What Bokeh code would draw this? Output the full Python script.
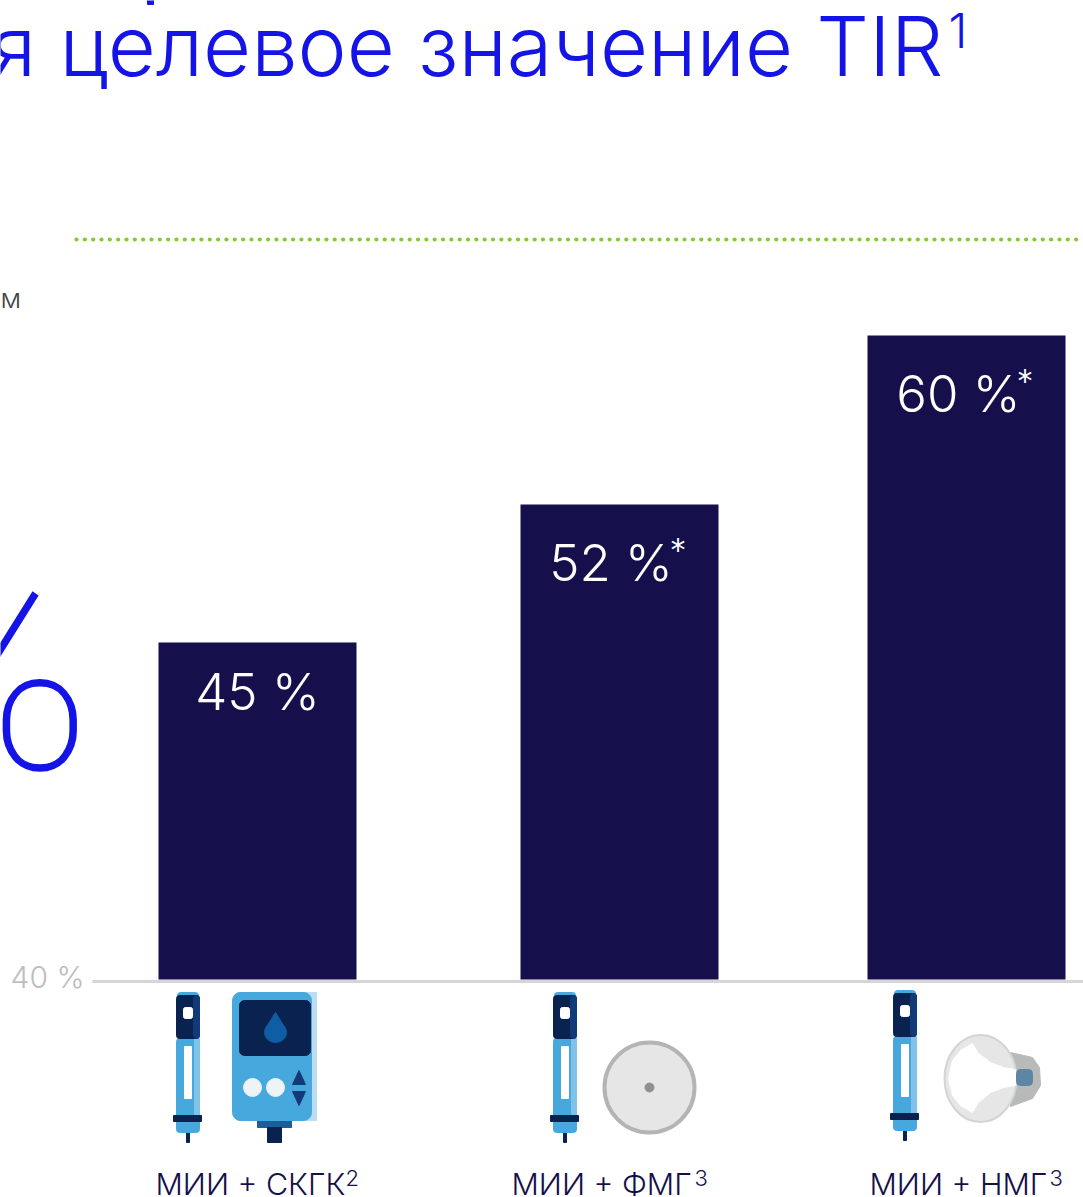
from bokeh.plotting import figure
from bokeh.models import Range1d, ColumnDataSource, LinearInterpolator
from bokeh.core.properties import value
from bokeh.transform import transform
from bokeh.embed import file_html
from bokeh.resources import INLINE

categories = ["МИИ + СКГК", "МИИ + ФМГ", "МИИ + НМГ"]
category_refs = ["2", "3", "3"]
tir_values = [45, 52, 60]
value_marks = ["", "*", "*"]
baseline_label = "40 %"
title_text = "я целевое значение TIR"
title_ref = "1"

# the source chart's value axis is broken: value -> drawn position
AXIS_VALUES = [40, 45, 52, 60]
AXIS_DRAWN = [979, 642, 504, 335]
BAR_CENTRES = [257, 619, 966]
LABEL_CENTRES = [257, 610.5, 958]
LABEL_OFFSETS = [49, 58, 58]
BAR_WIDTH = 198

LIGHT = value("Inter Light")
BLUE = "#1414e6"
NAVY = "#150f4b"
PEN_L = "#46a8dc"
PEN_D = "#0a2250"
BASE_K = 0.37  # alphabetic baseline correction

p = figure(width=1083, height=1197, x_range=Range1d(0, 1083), y_range=Range1d(1197, 0),
           output_backend="svg", toolbar_location=None, min_border=0,
           outline_line_color=None, background_fill_color="white", border_fill_color="white")
p.axis.visible = False
p.grid.visible = False

scale = LinearInterpolator(x=AXIS_VALUES, y=AXIS_DRAWN)
src = ColumnDataSource(dict(x=BAR_CENTRES, v=tir_values, base=[40, 40, 40]))
lab_src = ColumnDataSource(dict(x=LABEL_CENTRES, v=tir_values, off=LABEL_OFFSETS,
                                lab=[f"{v} %" for v in tir_values]))

def txt(x, y, s, size, color, align="left", font=LIGHT):
    p.text([x], [y - BASE_K * size], text=[s], text_font=font, text_font_size=f"{size}px",
           text_color=color, text_align=align, text_baseline="alphabetic")

# title fragments
txt(943, 76, title_text, 83, BLUE, align="right")
txt(948, 48, title_ref, 48, BLUE)
p.rect([150], [1], 6, 6, color=BLUE)
p.scatter([76 + 8.33 * i for i in range(121)], [239] * 121, size=4.2, color="#7fcc2e", line_color=None)
txt(0, 308, "м", 27, "#444444")

# big percent, cropped at the left edge
txt(92, 776, "%", 280, BLUE, align="right", font=value("Roboto Thin"))

# baseline and bars
p.segment([92], [981], [1083], [981], line_color="#d6d6da", line_width=3)
p.vbar(x="x", width=BAR_WIDTH, top=transform("v", scale), bottom=transform("base", scale),
       source=src, fill_color=NAVY, line_color=None)
txt(84, 988, baseline_label, 30, "#bdbdbd", align="right")

p.text(x="x", y=transform("v", scale), text="lab", source=lab_src, text_font=LIGHT, text_font_size="51px",
       text_color="white", text_align="center", text_baseline="alphabetic", y_offset="off")

src2 = ColumnDataSource(dict(x=[c + 50 for c, m in zip(BAR_CENTRES, value_marks) if m],
                             v=[v for v, m in zip(tir_values, value_marks) if m],
                             m=[m for m in value_marks if m]))
p.text(x="x", y=transform("v", scale), text="m", source=src2, text_font=LIGHT, text_font_size="34px",
       text_color="white", text_align="left", text_baseline="alphabetic", y_offset=46)

# category labels
LABEL_X = [155, 511, 869]
REF_X = [345, 694, 1049]
for x, rx, c, r in zip(LABEL_X, REF_X, categories, category_refs):
    txt(x, 1195, c, 30.4, NAVY)
    txt(rx, 1186, r, 22, NAVY)

def pen(x, y):
    p.quad(left=[x + 1], right=[x + 22], top=[y], bottom=[y + 8], color=PEN_L, border_radius=3)
    p.quad(left=[x + 10], right=[x + 13], top=[y + 138], bottom=[y + 150], color=PEN_D)
    p.quad(left=[x], right=[x + 23], top=[y + 46], bottom=[y + 140], color=PEN_L, border_radius=3)
    p.quad(left=[x + 18], right=[x + 23], top=[y + 46], bottom=[y + 123], color="#80c2e8")
    p.quad(left=[x], right=[x + 23], top=[y + 3], bottom=[y + 46], color=PEN_D, border_radius=3)
    p.quad(left=[x + 17], right=[x + 23], top=[y + 3], bottom=[y + 46], color="#123a78", border_radius=3)
    p.quad(left=[x + 8], right=[x + 15], top=[y + 54], bottom=[y + 106], color="white")
    p.quad(left=[x + 7], right=[x + 16], top=[y + 15], bottom=[y + 26], color="white", border_radius=2)
    p.quad(left=[x - 3], right=[x + 25], top=[y + 123], bottom=[y + 129], color=PEN_D)

pen(176, 992)
pen(553, 992)
pen(893, 990)

# pump
p.quad(left=[257], right=[291], top=[1120], bottom=[1127], color="#1c5d9c")
p.quad(left=[267], right=[281], top=[1127], bottom=[1142], color=PEN_D)
p.quad(left=[238], right=[316], top=[992], bottom=[1120], color="#bcdcf2")
p.quad(left=[232], right=[311], top=[992], bottom=[1120], color=PEN_L, border_radius=8)
p.quad(left=[239], right=[310], top=[1000], bottom=[1055], color=PEN_D, border_radius=5)
p.ellipse([275], [1032], 22, 20, color="#0f5da5")
p.patch([275, 265, 285], [1012, 1028, 1028], color="#0f5da5")
p.circle([252, 275], [1087, 1087], radius=9, color="#eef3f6")
p.patch([292, 298.5, 305], [1084, 1070, 1084], color="#123a78")
p.patch([292, 298.5, 305], [1091, 1105, 1091], color="#123a78")

# flash sensor
p.ellipse([649], [1087], 90, 90, fill_color="#e6e6e6", line_color="#b4b4b4", line_width=4)
p.circle([649], [1087], radius=4.5, color="#8f8f94")

# continuous sensor
p.patch([1010, 1032, 1039, 1040, 1032, 1010], [1052, 1057, 1067, 1085, 1098, 1106], color="#b8b9b9")
p.ellipse([980], [1078], 72, 87, fill_color="#e6e6e6", line_color="#d4d4d4", line_width=2)
p.patch([972, 978, 990, 1003, 1015, 1015, 1003, 990, 978, 972, 960, 952, 948, 952, 960],
        [1043, 1053, 1062, 1067, 1069, 1085, 1087, 1092, 1102, 1112, 1105, 1095, 1078, 1060, 1050],
        color="white")
p.quad(left=[1016], right=[1032], top=[1069], bottom=[1085], color="#5c86a4", border_radius=4)

open("out.html", "w").write(file_html(p, INLINE))
